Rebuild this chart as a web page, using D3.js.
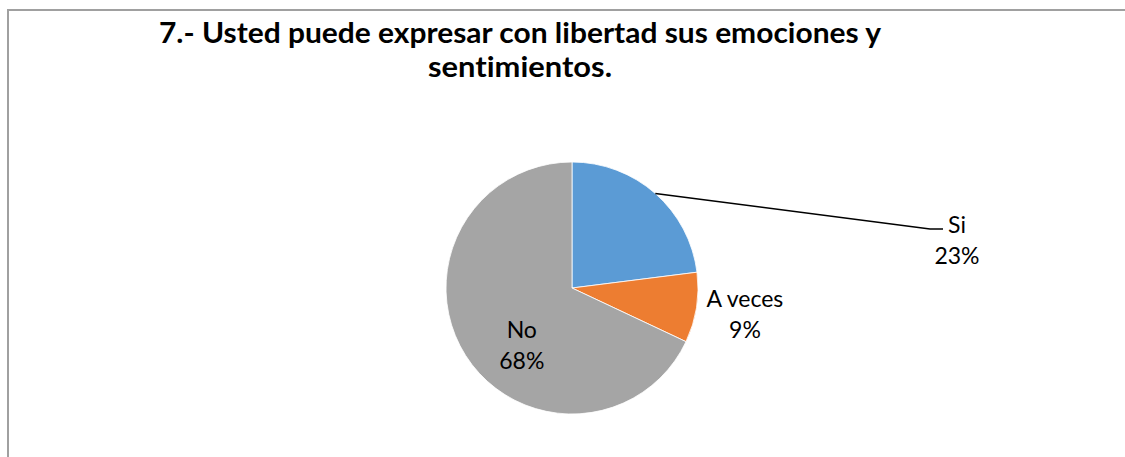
<!DOCTYPE html>
<meta charset="utf-8">
<style>

html, body {
  margin: 0;
  overflow: hidden;
  background: #fff;
}

svg {
  display: block;
}

text {
  font-family: Lato, "Open Sans", sans-serif;
  font-variant-ligatures: none;
  fill: #000;
}

</style>
<svg></svg>
<script src="https://d3js.org/d3.v7.min.js"></script>
<script>

var categories = ["Si", "A veces", "No"],
    values = [23, 9, 68],
    colors = ["#5b9bd5", "#ed7d31", "#a5a5a5"],
    titleLines = ["7.- Usted puede expresar con libertad sus emociones y", "sentimientos."];

var width = 1125,
    height = 457;

var svg = d3.select("svg")
    .attr("width", width)
    .attr("height", height);

// chart frame: only the left and top edges fall inside the picture
svg.append("path")
    .attr("d", d3.line()([[8, height], [8, 10], [width, 10]]))
    .attr("fill", "none")
    .attr("stroke", "#a0a0a0")
    .attr("stroke-width", 2);

// title
svg.append("g")
  .selectAll("text")
  .data(titleLines)
  .enter().append("text")
    .attr("x", 520)
    .attr("y", function(d, i) { return 43 + i * 34; })
    .attr("text-anchor", "middle")
    .attr("font-size", 29)
    .attr("font-weight", "bold")
    .attr("textLength", function(d, i) { return i ? 184 : 722; })
    .attr("lengthAdjust", "spacingAndGlyphs")
    .text(function(d) { return d; });

var cx = 572,
    cy = 288,
    radius = 126;

var total = d3.sum(values);

var pie = d3.pie()
    .sort(null)
    .value(function(d) { return d; });

var arcs = pie(values);

var arc = d3.arc()
    .innerRadius(0)
    .outerRadius(radius);

var g = svg.append("g")
    .attr("transform", "translate(" + cx + "," + cy + ")");

g.selectAll("path")
  .data(arcs)
  .enter().append("path")
    .attr("d", arc)
    .attr("fill", function(d, i) { return colors[i]; })
    .attr("stroke", "#fff")
    .attr("stroke-width", 0.8);

function polar(angle, dist) {
  return [dist * Math.sin(angle), -dist * Math.cos(angle)];
}

function mid(d) { return (d.startAngle + d.endAngle) / 2; }

// label anchors (first baseline), Excel-style placement
var rad = Math.PI / 180;
var anchors = [
  [385, -55],                                        // Si, dragged out with leader
  polar(mid(arcs[1]) - 2.7 * rad, 174),              // A veces, outside end
  polar(225 * rad, 71)                               // No, inside
];

// leader line for Si
var p0 = polar(mid(arcs[0]), radius);
g.append("path")
    .attr("d", d3.line()([p0, [358, -59], [371, -59]]))
    .attr("fill", "none")
    .attr("stroke", "#000")
    .attr("stroke-width", 1.5);

var labels = g.selectAll(".label")
  .data(arcs)
  .enter().append("text")
    .attr("class", "label")
    .attr("text-anchor", "middle")
    .attr("font-size", 23)
    .attr("transform", function(d, i) { return "translate(" + anchors[i] + ")"; });

labels.append("tspan")
    .attr("x", 0)
    .attr("y", 0)
    .text(function(d, i) { return categories[i]; });

labels.append("tspan")
    .attr("x", 0)
    .attr("y", 31)
    .text(function(d) { return Math.round(d.value / total * 100) + "%"; });

</script>
